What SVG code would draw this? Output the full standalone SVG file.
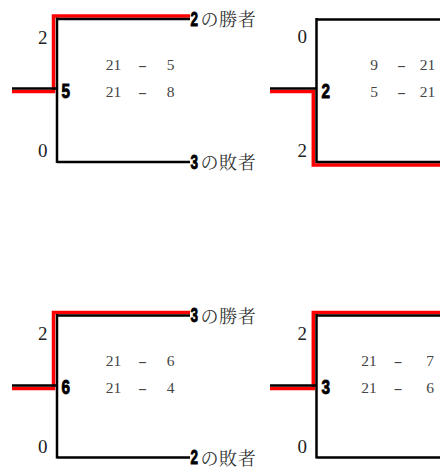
<svg xmlns="http://www.w3.org/2000/svg" width="440" height="473" viewBox="0 0 440 473">
<style>
.blk{stroke:#000;stroke-width:2.5;fill:none}
.red{stroke:#f00;stroke-width:3.5;fill:none}
.seed{font-family:'Liberation Serif',serif;font-size:19px;fill:#222;text-anchor:end}
.score{font-family:'Liberation Serif',serif;font-size:15.5px;fill:#444;text-anchor:middle}
.dash{font-family:'Liberation Serif',serif;font-size:15px;fill:#444;text-anchor:middle}
.num{font-family:'Liberation Sans',sans-serif;font-weight:bold;font-size:19.5px;fill:#000;stroke:#000;stroke-width:0.9}
.jp{font-family:'Noto Serif CJK JP','Noto Sans CJK JP',serif;font-size:18px;letter-spacing:0.6px;fill:#333}
</style>
<rect width="440" height="473" fill="#fff"/>
<g id="connectors">
  <path class="red" d="M12,91.5H53.5V16H190"/>
  <path class="blk" d="M12,88.5H57M57,17.5V163M57,19H190M57,162H190"/>
  <path class="red" d="M270,91.5H313.3V165H440"/>
  <path class="blk" d="M270,88.5H316.5M316.5,18V163M316.5,19.5H440M316.5,162H440"/>
  <path class="red" d="M12,388.5H53.5V312.5H190"/>
  <path class="blk" d="M12,385.5H57M57,314V458.5M57,315.5H190M57,457.5H190"/>
  <path class="red" d="M270,388.5H313.3V312.5H440"/>
  <path class="blk" d="M270,385.5H316.5M316.5,314V458.5M316.5,315.5H440M316.5,457.5H440"/>
</g>
<g id="match-5">
  <text class="seed" x="47.5" y="44">2</text>
  <text class="seed" x="47.5" y="157">0</text>
  <text class="num" x="61.5" y="97.5" textLength="8.5" lengthAdjust="spacingAndGlyphs">5</text>
  <text class="score" x="113.5" y="70">21</text><text class="dash" x="142.5" y="70" textLength="9" lengthAdjust="spacingAndGlyphs">-</text><text class="score" x="170.5" y="70">5</text>
  <text class="score" x="113.5" y="97">21</text><text class="dash" x="142.5" y="97" textLength="9" lengthAdjust="spacingAndGlyphs">-</text><text class="score" x="170.5" y="97">8</text>
</g>
<g id="label-winner-2">
  <text class="num" x="190.5" y="25.5" textLength="7.5" lengthAdjust="spacingAndGlyphs">2</text><text class="jp" x="200.5" y="26">の勝者</text>
</g>
<g id="label-loser-3">
  <text class="num" x="190.5" y="168.5" textLength="7.5" lengthAdjust="spacingAndGlyphs">3</text><text class="jp" x="200.5" y="169">の敗者</text>
</g>
<g id="match-2">
  <text class="seed" x="307" y="43">0</text>
  <text class="seed" x="307" y="157">2</text>
  <text class="num" x="321.5" y="97.5" textLength="8.5" lengthAdjust="spacingAndGlyphs">2</text>
  <text class="score" x="374" y="70">9</text><text class="dash" x="401.5" y="70" textLength="9" lengthAdjust="spacingAndGlyphs">-</text><text class="score" x="427.5" y="70">21</text>
  <text class="score" x="374" y="97">5</text><text class="dash" x="401.5" y="97" textLength="9" lengthAdjust="spacingAndGlyphs">-</text><text class="score" x="427.5" y="97">21</text>
</g>
<g id="match-6">
  <text class="seed" x="47.5" y="340">2</text>
  <text class="seed" x="47.5" y="453">0</text>
  <text class="num" x="61.5" y="394" textLength="8.5" lengthAdjust="spacingAndGlyphs">6</text>
  <text class="score" x="113.5" y="366">21</text><text class="dash" x="142.5" y="366" textLength="9" lengthAdjust="spacingAndGlyphs">-</text><text class="score" x="170.5" y="366">6</text>
  <text class="score" x="113.5" y="393">21</text><text class="dash" x="142.5" y="393" textLength="9" lengthAdjust="spacingAndGlyphs">-</text><text class="score" x="170.5" y="393">4</text>
</g>
<g id="label-winner-3">
  <text class="num" x="190.5" y="322" textLength="7.5" lengthAdjust="spacingAndGlyphs">3</text><text class="jp" x="200.5" y="322.5">の勝者</text>
</g>
<g id="label-loser-2">
  <text class="num" x="190.5" y="464" textLength="7.5" lengthAdjust="spacingAndGlyphs">2</text><text class="jp" x="200.5" y="464.5">の敗者</text>
</g>
<g id="match-3">
  <text class="seed" x="307" y="340">2</text>
  <text class="seed" x="307" y="453">0</text>
  <text class="num" x="321.5" y="394" textLength="8.5" lengthAdjust="spacingAndGlyphs">3</text>
  <text class="score" x="369" y="366">21</text><text class="dash" x="398" y="366" textLength="9" lengthAdjust="spacingAndGlyphs">-</text><text class="score" x="430" y="366">7</text>
  <text class="score" x="369" y="393">21</text><text class="dash" x="398" y="393" textLength="9" lengthAdjust="spacingAndGlyphs">-</text><text class="score" x="430" y="393">6</text>
</g>
</svg>
